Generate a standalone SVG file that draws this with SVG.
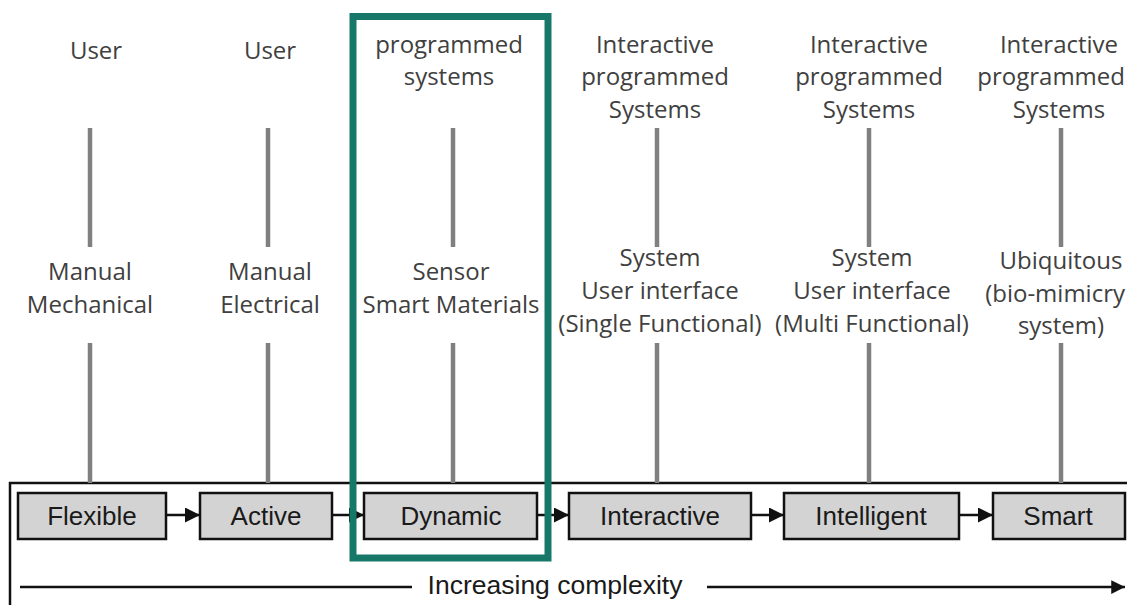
<svg xmlns="http://www.w3.org/2000/svg" width="1127" height="605" viewBox="0 0 1127 605">
<style>
.lbl{font-family:"Open Sans","Liberation Sans",sans-serif;font-size:24px;fill:#404040;text-anchor:middle}
.box{fill:#d3d3d3;stroke:#111;stroke-width:2.5}
.bt{font-family:"Liberation Sans",Arial,sans-serif;font-size:26px;fill:#1a1a1a;text-anchor:middle}
.tick{stroke:#808080;stroke-width:4.5}
.con{stroke:#111;stroke-width:2.5;fill:none}
</style>
<defs>
<marker id="ah" viewBox="0 0 10 10" refX="10" refY="5" markerWidth="6.5" markerHeight="6" markerUnits="strokeWidth" orient="auto">
<path d="M0,0 L10,5 L0,10 Z" fill="#111"/>
</marker>
<marker id="ah2" viewBox="0 0 10 10" refX="10" refY="5" markerWidth="5.5" markerHeight="6" markerUnits="strokeWidth" orient="auto">
<path d="M0,0 L10,5 L0,10 Z" fill="#111"/>
</marker>
</defs>

<g id="frame">
<path d="M10,605 L10,483 L1127,483" class="con" stroke-width="2"/>
</g>

<g id="ticks">
<line class="tick" x1="90" y1="128" x2="90" y2="247"/>
<line class="tick" x1="268" y1="128" x2="268" y2="247"/>
<line class="tick" x1="453" y1="128" x2="453" y2="247"/>
<line class="tick" x1="657" y1="128" x2="657" y2="247"/>
<line class="tick" x1="869" y1="128" x2="869" y2="247"/>
<line class="tick" x1="1061" y1="128" x2="1061" y2="247"/>
<line class="tick" x1="90" y1="343" x2="90" y2="483"/>
<line class="tick" x1="268" y1="343" x2="268" y2="483"/>
<line class="tick" x1="453" y1="343" x2="453" y2="483"/>
<line class="tick" x1="657" y1="343" x2="657" y2="483"/>
<line class="tick" x1="869" y1="343" x2="869" y2="483"/>
<line class="tick" x1="1061" y1="343" x2="1061" y2="483"/>
</g>

<g id="labels-top">
<text class="lbl" x="96" y="59">User</text>
<text class="lbl" x="270" y="59">User</text>
<text class="lbl" x="449" y="53">programmed</text>
<text class="lbl" x="449" y="85">systems</text>
<text class="lbl" x="655" y="53">Interactive</text>
<text class="lbl" x="655" y="85">programmed</text>
<text class="lbl" x="655" y="118">Systems</text>
<text class="lbl" x="869" y="53">Interactive</text>
<text class="lbl" x="869" y="85">programmed</text>
<text class="lbl" x="869" y="118">Systems</text>
<text class="lbl" x="1059" y="53">Interactive</text>
<text class="lbl" x="1125" y="85" style="text-anchor:end">programmed</text>
<text class="lbl" x="1059" y="118">Systems</text>
</g>

<g id="labels-mid">
<text class="lbl" x="90" y="280">Manual</text>
<text class="lbl" x="90" y="313">Mechanical</text>
<text class="lbl" x="270" y="280">Manual</text>
<text class="lbl" x="270" y="313">Electrical</text>
<text class="lbl" x="451" y="280">Sensor</text>
<text class="lbl" x="451" y="313">Smart Materials</text>
<text class="lbl" x="660" y="266">System</text>
<text class="lbl" x="660" y="299">User interface</text>
<text class="lbl" x="660" y="332">(Single Functional)</text>
<text class="lbl" x="872" y="266">System</text>
<text class="lbl" x="872" y="299">User interface</text>
<text class="lbl" x="872" y="332">(Multi Functional)</text>
<text class="lbl" x="1061" y="269">Ubiquitous</text>
<text class="lbl" x="1125" y="302" style="text-anchor:end">(bio-mimicry</text>
<text class="lbl" x="1061" y="334">system)</text>
</g>

<g id="connectors">
<line class="con" x1="166" y1="515" x2="200" y2="515" marker-end="url(#ah)"/>
<line class="con" x1="332" y1="515" x2="364" y2="515" marker-end="url(#ah)"/>
<line class="con" x1="537" y1="515" x2="569" y2="515" marker-end="url(#ah)"/>
<line class="con" x1="751" y1="515" x2="784" y2="515" marker-end="url(#ah)"/>
<line class="con" x1="959" y1="515" x2="993" y2="515" marker-end="url(#ah)"/>
</g>

<g id="node-flexible"><rect class="box" x="18" y="493" width="148" height="46"/><text class="bt" x="92" y="525">Flexible</text></g>
<g id="node-active"><rect class="box" x="200" y="493" width="132" height="46"/><text class="bt" x="266" y="525">Active</text></g>
<g id="node-dynamic"><rect class="box" x="364" y="493" width="173" height="46"/><text class="bt" x="451" y="525">Dynamic</text></g>
<g id="node-interactive"><rect class="box" x="569" y="493" width="182" height="46"/><text class="bt" x="660" y="525">Interactive</text></g>
<g id="node-intelligent"><rect class="box" x="784" y="493" width="175" height="46"/><text class="bt" x="871" y="525">Intelligent</text></g>
<g id="node-smart"><rect class="box" x="993" y="493" width="132" height="46"/><text class="bt" x="1058" y="525">Smart</text></g>

<g id="complexity">
<line class="con" x1="20" y1="587" x2="412" y2="587" stroke-width="3"/>
<text x="555" y="594" font-family="Liberation Sans, Arial, sans-serif" font-size="26.5" fill="#1a1a1a" text-anchor="middle">Increasing complexity</text>
<line class="con" x1="707" y1="587" x2="1125" y2="587" stroke-width="3" marker-end="url(#ah2)"/>
</g>

<g id="highlight">
<rect x="353" y="16.5" width="195" height="541.5" fill="none" stroke="#17786a" stroke-width="7"/>
</g>
</svg>
